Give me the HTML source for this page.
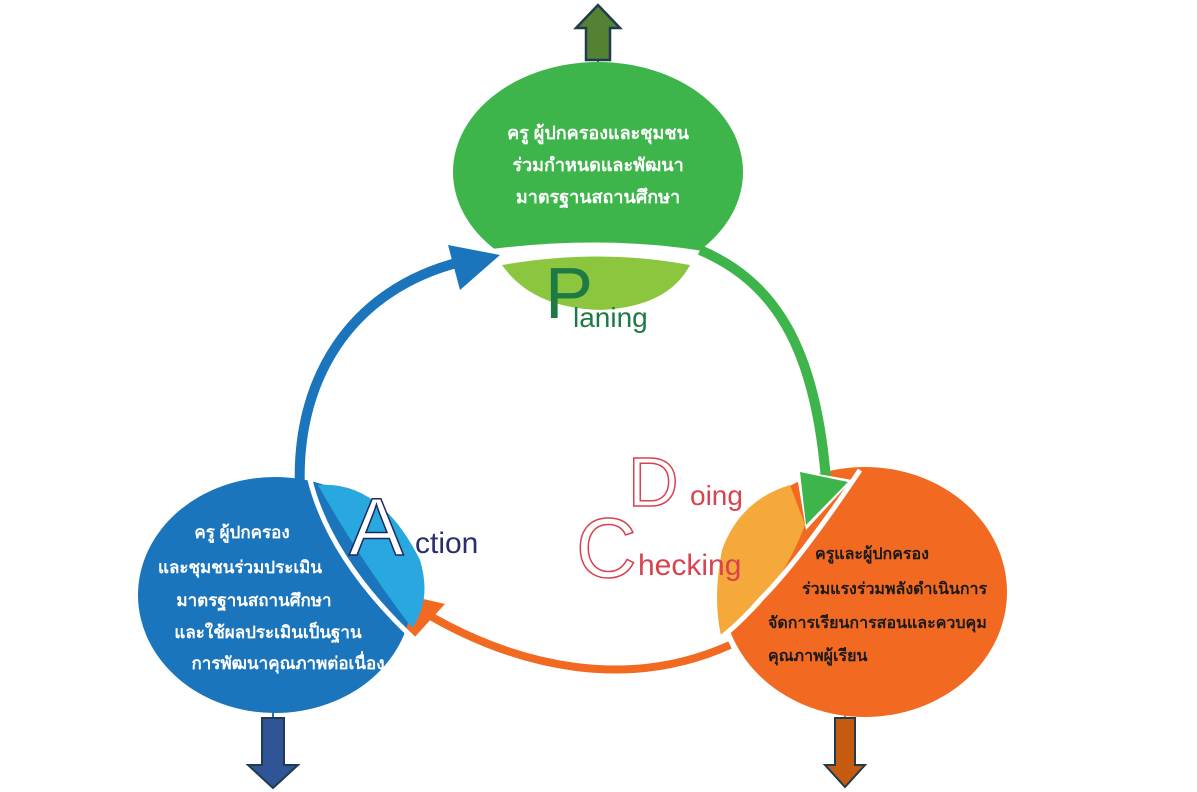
<!DOCTYPE html>
<html><head><meta charset="utf-8"><style>
html,body{margin:0;padding:0;background:#fff;}
svg{display:block;}
text{font-family:"Liberation Sans","Noto Sans CJK SC","WenQuanYi Zen Hei",sans-serif;}
.th{font-weight:bold;}
</style></head><body>
<svg width="1197" height="792" viewBox="0 0 1197 792" xmlns="http://www.w3.org/2000/svg">
<rect width="1197" height="792" fill="#fff"/>
<!-- top arrow -->
<line x1="598" y1="55" x2="598" y2="68" stroke="#3a8a3a" stroke-width="2"/>
<polygon points="586,60 586,28 576,28 598,5 620,28 610,28 610,60" fill="#548235" stroke="#1f3b4d" stroke-width="2.5"/>
<!-- green ellipse -->
<ellipse cx="598" cy="172" rx="145" ry="110" fill="#3db54a"/>
<path d="M450,255 Q600,230 725,255 Q710,300 640,312 Q560,318 500,292 Z" fill="#fff"/>
<path d="M502,265 Q600,248 690,265 Q668,307 600,310 Q532,308 502,265 Z" fill="#8cc63f"/>
<text class="th" x="598" y="139" font-size="18" fill="#fff" text-anchor="middle">ครู ผู้ปกครองและชุมชน</text>
<text class="th" x="598" y="171" font-size="18" fill="#fff" text-anchor="middle">ร่วมกำหนดและพัฒนา</text>
<text class="th" x="598" y="203" font-size="18" fill="#fff" text-anchor="middle">มาตรฐานสถานศึกษา</text>
<text x="545" y="318" font-size="72" fill="#1e7a45">P</text>
<text x="573" y="327" font-size="28" fill="#1e7a45">laning</text>
<!-- orange circle -->
<ellipse cx="865" cy="592" rx="142" ry="125" fill="#f26a21"/>
<path d="M790,485 Q740,500 722,550 Q712,600 722,640 L760,605 Q790,565 805,525 Z" fill="#f6a93b"/>
<path d="M860,470 Q800,560 760,600 Q730,635 690,660" fill="none" stroke="#fff" stroke-width="5"/>
<text class="th" x="815" y="559" font-size="16" fill="#1a1a1a">ครูและผู้ปกครอง</text>
<text class="th" x="802" y="594" font-size="16" fill="#1a1a1a">ร่วมแรงร่วมพลังดำเนินการ</text>
<text class="th" x="768" y="628" font-size="16" fill="#1a1a1a">จัดการเรียนการสอนและควบคุม</text>
<text class="th" x="768" y="661" font-size="16" fill="#1a1a1a">คุณภาพผู้เรียน</text>
<!-- green arc (on top) -->
<path d="M700,250 C770,280 815,340 826,480" fill="none" stroke="#3db54a" stroke-width="10"/>
<polygon points="796,470 852,480 806,530" fill="#fff"/>
<polygon points="800,472 848,482 806,525" fill="#3db54a"/>
<!-- orange arc -->
<path d="M730,645 C630,690 520,670 420,610" fill="none" stroke="#f26a21" stroke-width="8"/>
<polygon points="385,590 445,604 412,640" fill="#f26a21"/>
<!-- orange down arrow -->
<line x1="845" y1="710" x2="845" y2="722" stroke="#f26a21" stroke-width="2"/>
<polygon points="835,718 855,718 855,765 865,765 845,787 825,765 835,765" fill="#c55a11" stroke="#1f3b4d" stroke-width="2"/>
<!-- blue circle -->
<ellipse cx="275" cy="595" rx="137" ry="118" fill="#1b75bc"/>
<path d="M318,485 Q380,480 420,560 Q432,600 412,628 Q360,560 318,485 Z" fill="#29a8df"/>
<path d="M310,480 Q330,560 415,640" fill="none" stroke="#fff" stroke-width="5"/>
<text class="th" x="242" y="538" font-size="17" fill="#fff" text-anchor="middle">ครู ผู้ปกครอง</text>
<text class="th" x="240" y="573" font-size="17" fill="#fff" text-anchor="middle">และชุมชนร่วมประเมิน</text>
<text class="th" x="254" y="606" font-size="17" fill="#fff" text-anchor="middle">มาตรฐานสถานศึกษา</text>
<text class="th" x="268" y="638" font-size="17" fill="#fff" text-anchor="middle">และใช้ผลประเมินเป็นฐาน</text>
<text class="th" x="288" y="669" font-size="17" fill="#fff" text-anchor="middle">การพัฒนาคุณภาพต่อเนื่อง</text>
<!-- blue arc -->
<path d="M300,490 C295,380 350,290 460,262" fill="none" stroke="#1b75bc" stroke-width="10"/>
<polygon points="448,245 500,255 460,290" fill="#1b75bc"/>
<!-- blue down arrow -->
<line x1="273" y1="710" x2="273" y2="722" stroke="#1b75bc" stroke-width="2"/>
<polygon points="262,718 284,718 284,765 298,765 273,788 248,765 262,765" fill="#2f5597" stroke="#1f3b4d" stroke-width="2"/>
<!-- labels -->
<text x="349" y="555" font-size="82" fill="#fff" stroke="#1b2a5c" stroke-width="1.5">A</text>
<text x="415" y="553" font-size="30" fill="#2b2e6b">ction</text>
<text x="628" y="506" font-size="70" fill="#fff" stroke="#d9424f" stroke-width="1.5">D</text>
<text x="690" y="505" font-size="28" fill="#d9424f">oing</text>
<text x="576" y="577" font-size="84" fill="#fff" stroke="#d9424f" stroke-width="1.5">C</text>
<text x="638" y="575" font-size="30" fill="#d9424f">hecking</text>
</svg>
</body></html>
